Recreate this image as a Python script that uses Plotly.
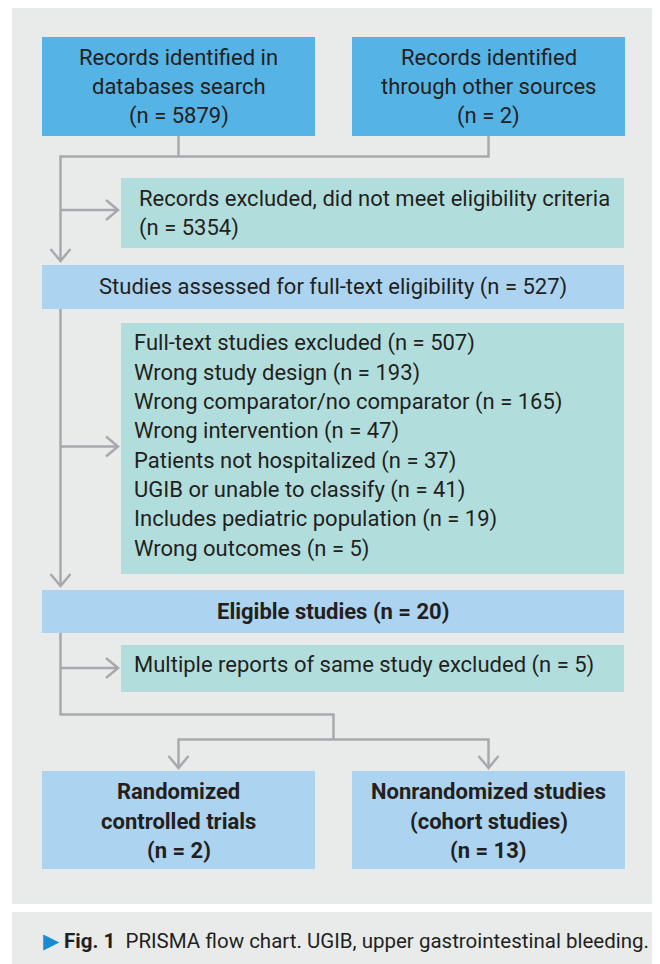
import plotly.graph_objects as go

# ---------------- data ----------------
identified_labels = [["Records identified in", "databases search"],
                     ["Records identified", "through other sources"]]
identified_counts = [5879, 2]

screen_excluded_label = "Records excluded, did not meet eligibility criteria"
screen_excluded_count = 5354

assessed_label = "Studies assessed for full-text eligibility"
assessed_count = 527

fulltext_excluded_label = "Full-text studies excluded"
fulltext_excluded_count = 507
exclusion_reasons = ["Wrong study design", "Wrong comparator/no comparator",
                     "Wrong intervention", "Patients not hospitalized",
                     "UGIB or unable to classify", "Includes pediatric population",
                     "Wrong outcomes"]
exclusion_counts = [193, 165, 47, 37, 41, 19, 5]

eligible_label = "Eligible studies"
eligible_count = 20

duplicate_label = "Multiple reports of same study excluded"
duplicate_count = 5

included_labels = [["Randomized", "controlled trials"],
                   ["Nonrandomized studies", "(cohort studies)"]]
included_counts = [2, 13]

caption_fig = "Fig. 1"
caption_text = "PRISMA flow chart. UGIB, upper gastrointestinal bleeding."

# ---------------- styles / layout constants ----------------
PAGE_W, PAGE_H = 660, 964
OFF = 8  # default page body margin
FONT = "Roboto, Liberation Sans, sans-serif"
TXT = "#231f20"
C_TOP = "#55b3e6"
C_TEAL = "#b1dedd"
C_LBLUE = "#acd3f0"
C_PANEL = "#e9ebeb"
C_LINE = "#a7a9ac"
C_TRI = "#1a8bd3"
FS = 22
LW = 2.5
LH = 29.3

fig = go.Figure()
shapes = []
annots = []


def rect(x0, y0, x1, y1, color):
    shapes.append(dict(type="rect", xref="x", yref="y", x0=x0, y0=y0, x1=x1, y1=y1,
                       fillcolor=color, line=dict(width=0), layer="below"))


def line(pts):
    path = "M " + " L ".join(f"{x},{y}" for x, y in pts)
    shapes.append(dict(type="path", xref="x", yref="y", path=path,
                       line=dict(color=C_LINE, width=LW), fillcolor="rgba(0,0,0,0)"))


def arrow_down(x, y):
    line([(x - 10, y - 12), (x, y), (x + 10, y - 12)])


def arrow_right(x, y):
    line([(x - 12, y - 10), (x, y), (x - 12, y + 10)])


def text(x, y, s, anchor="center", bold=False, size=FS):
    annots.append(dict(x=x, y=y, xref="x", yref="y", text=f"<b>{s}</b>" if bold else s,
                       showarrow=False, xanchor=anchor, yanchor="middle",
                       font=dict(family=FONT, size=size, color=TXT)))


def lines_block(x, yc, rows, anchor="center", bold=False):
    n = len(rows)
    for i, r in enumerate(rows):
        text(x, yc + (i - (n - 1) / 2) * LH, r, anchor, bold)


# panels
rect(12, 7, 655, 904, C_PANEL)
rect(12, 912, 655, 970, C_PANEL)

# boxes
L0, L1, R0, R1 = 42, 315, 352, 625
E0, E1 = 121, 624
MX = 60.5
top_boxes = [(L0, L1), (R0, R1)]
for (x0, x1), lab, n in zip(top_boxes, identified_labels, identified_counts):
    rect(x0, 37, x1, 136, C_TOP)
    lines_block((x0 + x1) / 2, 86.5, lab + [f"(n = {n})"])

rect(E0, 178, E1, 248, C_TEAL)
lines_block(E0 + 16, 213, [screen_excluded_label, f"(n = {screen_excluded_count})"], anchor="left")

rect(L0, 265, E1, 309, C_LBLUE)
text((L0 + E1) / 2, 287, f"{assessed_label} (n = {assessed_count})")

rect(E0, 323, E1, 574, C_TEAL)
ft_rows = [f"{fulltext_excluded_label} (n = {fulltext_excluded_count})"] + \
          [f"{r} (n = {c})" for r, c in zip(exclusion_reasons, exclusion_counts)]
lines_block(E0 + 11, 446, ft_rows, anchor="left")

rect(L0, 590, E1, 633, C_LBLUE)
text((L0 + E1) / 2, 611.5, f"{eligible_label} (n = {eligible_count})", bold=True)

rect(E0, 645, E1, 692, C_TEAL)
text(E0 + 11, 665, f"{duplicate_label} (n = {duplicate_count})", anchor="left")

for (x0, x1), lab, n in zip(top_boxes, included_labels, included_counts):
    rect(x0, 771, x1, 869, C_LBLUE)
    lines_block((x0 + x1) / 2, 821, lab + [f"(n = {n})"], bold=True)

# connectors
cL, cR = (L0 + L1) / 2, (R0 + R1) / 2
line([(cL, 136), (cL, 156.5)])
line([(cR, 136), (cR, 156.5), (MX, 156.5), (MX, 261)])
arrow_down(MX, 261)
line([(MX, 210), (118, 210)])
arrow_right(118, 210)

line([(MX, 309), (MX, 586)])
arrow_down(MX, 586)
line([(MX, 446.5), (118, 446.5)])
arrow_right(118, 446.5)

line([(MX, 633), (MX, 714.5), (333.5, 714.5), (333.5, 739.5)])
line([(cL, 768), (cL, 739.5), (cR, 739.5), (cR, 768)])
arrow_down(cL, 768)
arrow_down(cR, 768)
line([(MX, 668), (118, 668)])
arrow_right(118, 668)

# caption
annots.append(dict(x=41, y=941, xref="x", yref="y", showarrow=False, xanchor="left", yanchor="middle",
                   text=f"<span style='color:{C_TRI}'>▶</span> <b>{caption_fig}</b>  {caption_text}",
                   font=dict(family=FONT, size=20.5, color=TXT)))

fig.update_layout(width=PAGE_W - OFF, height=PAGE_H - OFF, margin=dict(l=0, r=0, t=0, b=0),
                  paper_bgcolor="white", plot_bgcolor="white",
                  shapes=shapes, annotations=annots, showlegend=False,
                  xaxis=dict(range=[OFF, PAGE_W], visible=False, fixedrange=True),
                  yaxis=dict(range=[PAGE_H, OFF], visible=False, fixedrange=True))
fig.write_html("out.html")
